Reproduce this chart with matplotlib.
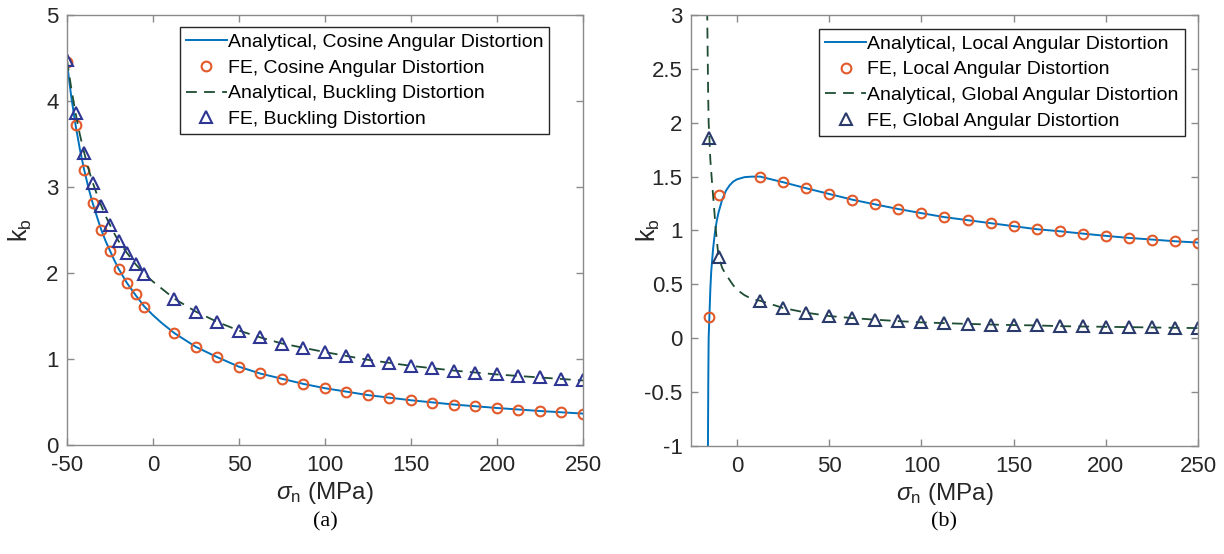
import matplotlib
matplotlib.use("Agg")
from matplotlib import pyplot as plt

plt.rcParams["font.family"] = ["Liberation Sans", "DejaVu Sans"]
plt.rcParams["mathtext.fontset"] = "custom"
plt.rcParams["mathtext.rm"] = "Liberation Sans"
plt.rcParams["mathtext.it"] = "Liberation Sans:italic"
plt.rcParams["axes.unicode_minus"] = False

# panel (a): cosine angular distortion / buckling distortion
fe_x_a = [-50, -45, -40, -35, -30, -25, -20, -15, -10, -5,
          12.5, 25, 37.5, 50, 62.5, 75, 87.5, 100, 112.5, 125,
          137.5, 150, 162.5, 175, 187.5, 200, 212.5, 225, 237.5, 250]
fe_cos = [4.45, 3.72, 3.20, 2.81, 2.50, 2.26, 2.05, 1.88, 1.75, 1.61,
          1.30, 1.14, 1.02, 0.91, 0.835, 0.77, 0.705, 0.663, 0.62, 0.581,
          0.547, 0.519, 0.492, 0.467, 0.450, 0.430, 0.411, 0.395, 0.380, 0.364]
fe_buck = [4.48, 3.86, 3.40, 3.05, 2.78, 2.56, 2.37, 2.23, 2.10, 1.99,
           1.70, 1.55, 1.43, 1.33, 1.25, 1.18, 1.13, 1.08, 1.03, 0.99,
           0.95, 0.92, 0.895, 0.86, 0.84, 0.82, 0.80, 0.785, 0.77, 0.75]

an_x_a = [-50, -47.5, -45, -42.5, -40, -37.5, -35, -32.5, -30, -27.5, -25, -22.5,
          -20, -15, -10, -5, 0, 5, 12.5, 25, 37.5, 50, 62.5, 75, 87.5, 100,
          125, 150, 175, 200, 225, 250]
an_cos = [4.45, 4.05, 3.72, 3.44, 3.20, 2.99, 2.81, 2.65, 2.50, 2.37, 2.26, 2.15,
          2.05, 1.88, 1.74, 1.61, 1.51, 1.42, 1.30, 1.14, 1.02, 0.91, 0.83, 0.77, 0.71, 0.66,
          0.58, 0.52, 0.47, 0.43, 0.395, 0.365]
an_buck = [4.48, 4.15, 3.86, 3.61, 3.40, 3.21, 3.05, 2.91, 2.78, 2.66, 2.56, 2.46,
           2.37, 2.23, 2.10, 1.99, 1.90, 1.82, 1.70, 1.55, 1.43, 1.33, 1.25, 1.18, 1.13, 1.08,
           0.99, 0.92, 0.865, 0.82, 0.785, 0.75]

# panel (b): local / global angular distortion
fe_x_b = [-15, -10, 12.5, 25, 37.5, 50, 62.5, 75, 87.5, 100, 112.5, 125,
          137.5, 150, 162.5, 175, 187.5, 200, 212.5, 225, 237.5, 250]
fe_local = [0.20, 1.33, 1.50, 1.448, 1.392, 1.339, 1.286, 1.242, 1.199, 1.161, 1.124, 1.096,
            1.068, 1.040, 1.012, 0.993, 0.971, 0.950, 0.931, 0.916, 0.900, 0.888]
fe_global = [1.86, 0.757, 0.348, 0.281, 0.237, 0.206, 0.187, 0.172, 0.159, 0.147, 0.140, 0.133,
             0.127, 0.122, 0.119, 0.112, 0.109, 0.106, 0.103, 0.100, 0.097, 0.094]

an_x_local = [-15.8, -15.6, -15.4, -15, -14.5, -14, -13, -12, -11, -10, -8, -6, -4, -2, 0, 4, 8,
              12.5, 25, 37.5, 50, 62.5, 75, 87.5, 100, 112.5, 125, 137.5, 150, 162.5,
              175, 187.5, 200, 212.5, 225, 237.5, 250]
an_local = [-1.05, -0.4, 0.0, 0.2, 0.45, 0.62, 0.83, 0.98, 1.09, 1.17, 1.29, 1.37, 1.42, 1.455, 1.475,
            1.495, 1.50, 1.50, 1.448, 1.392, 1.339, 1.286, 1.242, 1.199, 1.161, 1.124, 1.096,
            1.068, 1.040, 1.012, 0.993, 0.971, 0.950, 0.931, 0.916, 0.900, 0.888]
an_x_global = [-16.2, -16.0, -15.7, -15.4, -15, -14.5, -13.5, -12.5, -11.5, -10.5, -10, -8, -6,
               -4, -2, 0, 4, 8, 12.5, 25, 37.5, 50, 62.5, 75, 87.5, 100, 112.5, 125, 137.5,
               150, 162.5, 175, 187.5, 200, 212.5, 225, 237.5, 250]
an_global = [3.05, 2.75, 2.3, 2.0, 1.86, 1.66, 1.43, 1.22, 1.0, 0.83, 0.757, 0.65, 0.59,
             0.54, 0.49, 0.45, 0.40, 0.365, 0.348, 0.281, 0.237, 0.206, 0.187, 0.172, 0.159,
             0.147, 0.140, 0.133, 0.127, 0.122, 0.119, 0.112, 0.109, 0.106, 0.103, 0.100,
             0.097, 0.094]

xticks_a = [-50, 0, 50, 100, 150, 200, 250]
yticks_a = [0, 1, 2, 3, 4, 5]
xticks_b = [0, 50, 100, 150, 200, 250]
yticks_b = [-1, -0.5, 0, 0.5, 1, 1.5, 2, 2.5, 3]
ytick_labels_b = ["-1", "-0.5", "0", "0.5", "1", "1.5", "2", "2.5", "3"]

BLUE = "#0072BD"
ORANGE = "#E2592A"
GREEN = "#1E4D33"
NAVY_A = "#2E3592"
NAVY_B = "#2A3A6A"
DASH = (0, (6, 4))

fig = plt.figure(figsize=(12.24, 5.54), dpi=100)
ax1 = fig.add_axes([0.0547, 0.1968, 0.4216, 0.7761])
ax2 = fig.add_axes([0.5645, 0.1950, 0.4143, 0.7779])

ax1.plot(an_x_a, an_cos, color=BLUE, lw=1.4, label="Analytical, Cosine Angular Distortion")
ax1.plot(fe_x_a, fe_cos, ls="none", marker="o", ms=7, mfc="none", mec=ORANGE, mew=1.5,
         label="FE, Cosine Angular Distortion")
ax1.plot(an_x_a, an_buck, color=GREEN, lw=1.3, ls=DASH, label="Analytical, Buckling Distortion")
ax1.plot(fe_x_a, fe_buck, ls="none", marker="^", ms=8, mfc="none", mec=NAVY_A, mew=1.5,
         label="FE, Buckling Distortion")

ax2.plot(an_x_local, an_local, color=BLUE, lw=1.4, label="Analytical, Local Angular Distortion")
ax2.plot(fe_x_b, fe_local, ls="none", marker="o", ms=7, mfc="none", mec=ORANGE, mew=1.5,
         label="FE, Local Angular Distortion")
ax2.plot(an_x_global, an_global, color=GREEN, lw=1.3, ls=DASH,
         label="Analytical, Global Angular Distortion")
ax2.plot(fe_x_b, fe_global, ls="none", marker="^", ms=8, mfc="none", mec=NAVY_B, mew=1.5,
         label="FE, Global Angular Distortion")

ax1.set_xlim(-50, 250)
ax1.set_ylim(0, 5)
ax1.set_xticks(xticks_a)
ax1.set_yticks(yticks_a)

ax2.set_xlim(-25, 250)
ax2.set_ylim(-1, 3)
ax2.set_xticks(xticks_b)
ax2.set_yticks(yticks_b)
ax2.set_yticklabels(ytick_labels_b)

setup = [(ax1, (0.935, 0.972), "(a)", -0.064), (ax2, (0.974, 0.968), "(b)", -0.058)]
for ax, anchor, tag, ylab_x in setup:
    for s in ax.spines.values():
        s.set_color("#8a8a8a")
        s.set_linewidth(1.0)
    ax.tick_params(direction="in", top=True, right=True, length=5, width=1,
                   color="#8a8a8a", labelcolor="#262626", labelsize=16)
    ax.tick_params(axis="x", pad=7)
    ax.tick_params(axis="y", pad=6)
    ax.set_xlabel(r"$\sigma_{\mathrm{n}}$ (MPa)", fontsize=17.5, color="#262626", labelpad=3)
    ax.set_ylabel(r"k$_{\mathrm{b}}$", fontsize=18, color="#262626")
    ax.yaxis.set_label_coords(ylab_x, 0.5)
    leg = ax.legend(loc="upper right", bbox_to_anchor=anchor, fontsize=14, fancybox=False,
                    framealpha=1, edgecolor="#262626", handlelength=2.1, handletextpad=0.05,
                    borderpad=0.32, labelspacing=0.42, borderaxespad=0)
    leg.get_frame().set_linewidth(1.0)
    pos = ax.get_position()
    fig.text((pos.x0 + pos.x1) / 2, 0.058, tag, ha="center", va="center",
             family=["Liberation Serif", "DejaVu Serif"], fontsize=16)

plt.savefig("out.png", dpi=100)
plt.close(fig)
